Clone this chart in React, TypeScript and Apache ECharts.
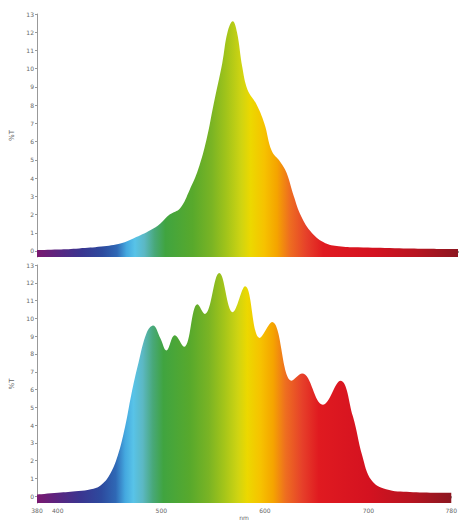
import React, { useEffect, useRef } from "react";
import * as echarts from "echarts";

// Top spectrum (nm, %T)
const topNm = [380, 400, 420, 441, 460, 472, 488, 497, 506, 516, 525, 533, 541, 548, 556, 561, 566, 570, 575, 580, 588, 596, 603, 611, 617, 624, 631, 641, 654, 669, 685, 720, 750, 780];
const topVal = [0.05, 0.08, 0.14, 0.24, 0.43, 0.7, 1.15, 1.5, 2.0, 2.35, 3.35, 4.45, 6.1, 8.1, 10.3, 12.0, 12.6, 12.0, 10.1, 8.85, 8.1, 7.0, 5.5, 4.9, 4.3, 3.0, 1.9, 1.0, 0.43, 0.25, 0.2, 0.15, 0.12, 0.1];

// Bottom spectrum (nm, %T)
const botNm = [380, 400, 420, 432, 441, 450, 458, 465, 471, 478, 486, 492, 499, 505, 513, 522, 535, 542, 556, 569, 581, 595, 607, 626, 636, 656, 673, 685, 694, 703, 717, 740, 780];
const botVal = [0.1, 0.2, 0.3, 0.4, 0.6, 1.2, 2.3, 3.9, 5.7, 7.5, 9.2, 9.6, 8.9, 8.2, 9.05, 8.4, 10.8, 10.25, 12.55, 10.35, 11.8, 8.9, 9.8, 6.5, 6.9, 5.15, 6.5, 4.5, 2.3, 0.9, 0.4, 0.25, 0.2];

const xTicks = [380, 400, 500, 600, 700, 780];
const yTicks = [0, 1, 2, 3, 4, 5, 6, 7, 8, 9, 10, 11, 12, 13];

const spectrumStops: [number, string][] = [
  [380, "#7a1870"], [400, "#5a2580"], [422, "#3a3590"], [442, "#2d4a9e"],
  [456, "#2f68b5"], [465, "#44a8df"], [473, "#58c3e8"], [482, "#5cb8c4"],
  [492, "#48a878"], [502, "#40a440"], [528, "#58a92c"], [546, "#7ab424"],
  [560, "#a2c41a"], [574, "#cfd412"], [583, "#ecd800"], [596, "#f6c200"],
  [608, "#f5a400"], [620, "#ee6e20"], [636, "#e6402a"], [652, "#e01a20"],
  [700, "#d41220"], [740, "#b81420"], [780, "#8c1620"],
];

export default function App() {
  const ref = useRef<HTMLDivElement>(null);
  useEffect(() => {
    if (!ref.current) return;
    const chart = echarts.init(ref.current, null, { renderer: "svg" });
    const grad = () =>
      new echarts.graphic.LinearGradient(
        0, 0, 1, 0,
        spectrumStops.map(([nm, c]) => ({ offset: (nm - 380) / 400, color: c }))
      );
    const txt = "#666";
    const axisLine = { show: true, lineStyle: { color: "#999", width: 1 } };
    const mkY = (idx: number, min: number) => ({
      type: "value",
      gridIndex: idx,
      min,
      max: 13,
      name: "%T",
      nameLocation: "middle",
      nameGap: 22,
      nameRotate: 90,
      nameTextStyle: { color: txt, fontSize: 7, fontFamily: "DejaVu Sans" },
      axisLine,
      axisTick: { show: true, length: 2, lineStyle: { color: "#999" }, customValues: yTicks },
      axisLabel: { color: txt, fontSize: 6, margin: 3, fontFamily: "DejaVu Sans", customValues: yTicks },
      splitLine: { show: false },
    });
    const mkX = (idx: number, labels: boolean) => ({
      type: "value",
      gridIndex: idx,
      min: 380,
      max: 780,
      name: labels ? "nm" : "",
      nameLocation: "middle",
      nameGap: 10,
      nameTextStyle: { color: txt, fontSize: 6, fontFamily: "DejaVu Sans" },
      axisLine,
      axisTick: { show: true, length: 2, lineStyle: { color: "#999" }, customValues: xTicks },
      axisLabel: { show: labels, color: txt, fontSize: 6, margin: 4, fontFamily: "DejaVu Sans", customValues: xTicks },
      splitLine: { show: false },
    });
    const mkSeries = (idx: number, nm: number[], val: number[]) => ({
      type: "line",
      xAxisIndex: idx,
      yAxisIndex: idx,
      data: nm.map((n, i) => [n, val[i]]),
      smooth: 0.4,
      showSymbol: false,
      lineStyle: { width: 0 },
      areaStyle: { color: grad(), opacity: 1, origin: "start" },
    });
    chart.setOption({
      animation: false,
      backgroundColor: "#fff",
      grid: [
        { left: 36, right: 2, top: 14, bottom: 264 },
        { left: 36, right: 2, top: 265, bottom: 12 },
      ],
      xAxis: [mkX(0, false), mkX(1, true)],
      yAxis: [mkY(0, -0.33), mkY(1, -0.38)],
      series: [mkSeries(0, topNm, topVal), mkSeries(1, botNm, botVal)],
    });
    return () => chart.dispose();
  }, []);
  return <div ref={ref} style={{ position: "fixed", left: 0, top: 0, width: 460, height: 521 }} />;
}
